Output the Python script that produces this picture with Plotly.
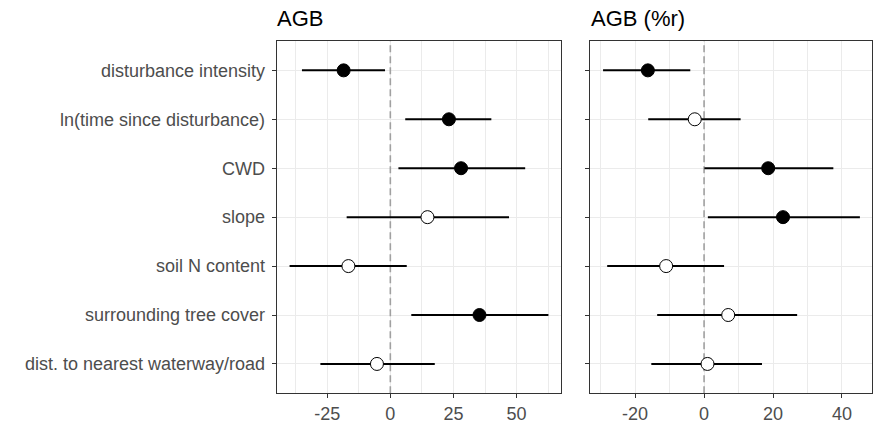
import plotly.graph_objects as go

predictors = [
    "disturbance intensity",
    "ln(time since disturbance)",
    "CWD",
    "slope",
    "soil N content",
    "surrounding tree cover",
    "dist. to nearest waterway/road",
]

# Panel 1: AGB
agb_est = [-18.5, 23.2, 28.0, 14.7, -16.6, 35.3, -5.3]
agb_lo = [-35.0, 5.9, 3.2, -17.3, -39.9, 8.3, -27.7]
agb_hi = [-2.1, 40.0, 53.4, 47.0, 6.5, 62.6, 17.6]
agb_sig = [True, True, True, False, False, True, False]
agb_ticks = [-25, 0, 25, 50]
agb_ticktext = ["-25", "0", "25", "50"]

# Panel 2: AGB (%r)
agbr_est = [-16.3, -2.7, 18.6, 22.9, -11.0, 7.0, 1.0]
agbr_lo = [-29.3, -16.2, 0.1, 1.1, -28.1, -13.6, -15.3]
agbr_hi = [-4.0, 10.6, 37.5, 45.2, 5.8, 27.0, 16.8]
agbr_sig = [True, False, True, True, False, False, False]
agbr_ticks = [-20, 0, 20, 40]
agbr_ticktext = ["-20", "0", "20", "40"]

panel_titles = ["AGB", "AGB (%r)"]

W, H = 873, 427
FONT = "Liberation Sans, Arial, sans-serif"

# category positions (index of each predictor), with ggplot-style 0.6 padding
ypos = list(range(len(predictors)))
Y_RANGE = [len(predictors) - 1 + 0.6, -0.6]

fig = go.Figure()


def add_panel(est, lo, hi, sig, xa, ya):
    # dashed zero reference line spanning the panel (drawn beneath marks)
    fig.add_trace(go.Scatter(
        x=[0, 0], y=Y_RANGE, xaxis=xa, yaxis=ya, mode="lines",
        line=dict(color="#A0A0A0", width=1.6, dash="7px,4px"),
        showlegend=False, hoverinfo="skip", cliponaxis=True,
    ))
    fig.add_trace(go.Scatter(
        x=est, y=ypos, xaxis=xa, yaxis=ya, mode="markers",
        error_x=dict(type="data", symmetric=False,
                     array=[h - e for h, e in zip(hi, est)],
                     arrayminus=[e - l for e, l in zip(est, lo)],
                     color="black", thickness=2, width=0),
        marker=dict(size=13, color=["black" if s else "white" for s in sig],
                    line=dict(color="black", width=1)),
        showlegend=False, hoverinfo="skip",
    ))


add_panel(agb_est, agb_lo, agb_hi, agb_sig, "x", "y")
add_panel(agbr_est, agbr_lo, agbr_hi, agbr_sig, "x2", "y2")

grid = "#EBEBEB"
dark = "#333333"
axis_common = dict(
    showline=True, mirror=True, linecolor=dark, linewidth=1.2,
    ticks="outside", ticklen=4, tickcolor=dark, tickwidth=1.2,
    gridcolor=grid, gridwidth=1.2, zeroline=False,
    tickfont=dict(family=FONT, size=18, color="#4D4D4D"),
)

left_dom = [276.7 / W, 561.3 / W]
right_dom = [590.3 / W, 0.9992]
ydom = [1 - 393.3 / H, 1 - 41 / H]

fig.update_layout(
    width=W, height=H, margin=dict(l=0, r=0, t=0, b=0),
    paper_bgcolor="white", plot_bgcolor="white",
    xaxis=dict(domain=left_dom, range=[-45.0, 67.7], tickmode="array",
               tickvals=agb_ticks, ticktext=agb_ticktext,
               minor=dict(dtick=12.5, tick0=0, showgrid=True, gridcolor=grid, gridwidth=0.7, ticks=""),
               anchor="y", **axis_common),
    xaxis2=dict(domain=right_dom, range=[-33.0, 48.8], tickmode="array",
                tickvals=agbr_ticks, ticktext=agbr_ticktext,
                minor=dict(dtick=10, tick0=0, showgrid=True, gridcolor=grid, gridwidth=0.7, ticks=""),
                anchor="y2", **axis_common),
    yaxis=dict(domain=ydom, range=Y_RANGE, tickmode="array", tickvals=ypos, ticktext=predictors,
               anchor="x", ticklabelstandoff=3, **axis_common),
    yaxis2=dict(domain=ydom, range=Y_RANGE, tickmode="array", tickvals=ypos,
                anchor="x2", showticklabels=False, **axis_common),
)

for title, xa in zip(panel_titles, ["x", "x2"]):
    fig.add_annotation(text=title, xref=xa + " domain", x=-0.005, xanchor="left",
                       yref="paper", y=1 - 18 / H, yanchor="middle", showarrow=False,
                       font=dict(family=FONT, size=22, color="black"))

fig.write_html("out.html")
